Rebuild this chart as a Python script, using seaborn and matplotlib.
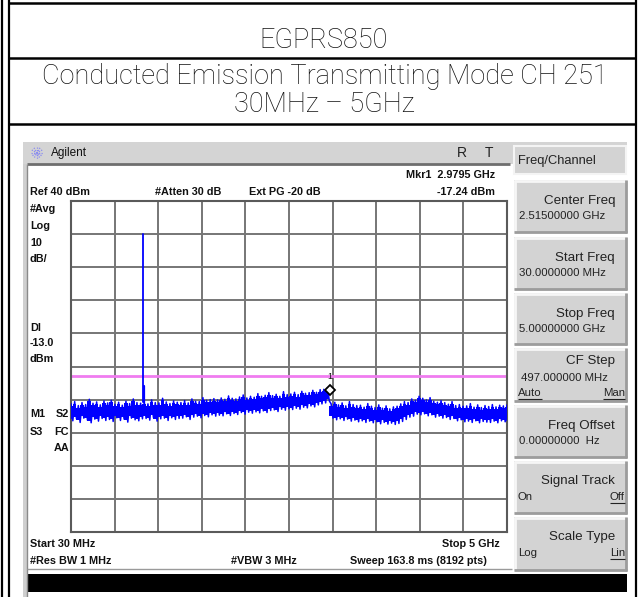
import numpy as np
import pandas as pd
import matplotlib
matplotlib.use("Agg")
import matplotlib.pyplot as plt
import seaborn as sns
from matplotlib.patches import Rectangle

# ---------------- sweep settings ----------------
start_mhz = 30.0
stop_mhz = 5000.0
ref_level_dbm = 40.0
db_per_div = 10.0
display_line_dbm = -13.0

# carrier and marker
carrier_mhz = 848.8
carrier_dbm = 30.0
carrier_skirt_dbm = -16.0
marker_mhz = 2979.5
marker_dbm = -17.24

# peak / pit of the averaged trace per display bin
trace_max = [
    -21.2, -20.6, -21.8, -20.9, -21.5, -19.9, -21.1, -20.7, -21.6, -20.4,
    -21.0, -20.2, -21.4, -20.8, -21.7, -20.5, -21.2, -19.8, -20.9, -21.1,
    -20.6, -21.3, -20.1, -20.9, -21.0, -19.6, -20.7, -21.2, -20.4, -20.8,
    -20.9, -20.3, -21.0, -19.8, -20.5, -20.6, -19.4, -20.2, -20.0, -19.7,
    -20.1, -19.5, -19.9, -18.9, -19.6, -19.8, -19.2, -18.6, -19.5, -19.0,
    -19.3, -18.2, -19.0, -18.7, -17.9, -18.8, -18.4, -19.0, -17.6, -18.5,
    -18.3, -17.8, -18.5, -17.5, -18.1, -17.9, -17.2, -17.8, -17.0, -16.9,
    -16.4,
    -21.3, -20.8, -21.6, -21.0, -21.9, -20.6, -21.5, -21.8,
    -21.7, -22.3, -21.2, -22.0, -22.4, -21.6, -22.6, -21.9, -22.8, -22.2,
    -22.0, -21.3, -20.6, -20.9, -19.8, -20.2, -19.0,
    -19.6, -20.1, -19.4, -20.5, -20.8, -20.3,
    -20.9, -21.4, -20.6, -21.8, -21.5, -22.0,
    -21.9, -21.2, -22.3, -21.6, -22.4, -21.8,
    -22.1, -21.5, -22.2, -21.7, -21.9, -21.6,
]
trace_min = [
    -26.4, -25.8, -26.9, -25.6, -26.2, -27.0, -25.9, -26.5, -25.7, -26.3,
    -26.0, -26.6, -25.5, -26.3, -25.9, -26.8, -25.6, -26.1, -26.4, -25.8,
    -25.7, -26.2, -25.4, -26.5, -25.8, -25.6, -26.3, -25.5, -26.0, -25.7,
    -25.6, -25.2, -26.0, -25.3, -25.0, -25.5, -24.8, -25.2, -24.6, -25.0,
    -24.7, -24.9, -24.3, -24.8, -24.2, -24.5, -23.9, -24.4, -23.8, -24.1,
    -23.7, -24.0, -23.4, -23.9, -23.3, -23.1, -23.6, -22.9, -23.2, -22.8,
    -23.0, -22.6, -22.9, -22.3, -22.5, -21.9, -22.2, -21.6, -21.3, -21.0,
    -20.4,
    -25.6, -26.1, -25.8, -26.3, -25.9, -26.5, -26.2, -26.7,
    -26.4, -26.9, -26.5, -27.0, -26.7, -27.3, -26.9, -27.4, -27.1, -27.5,
    -27.2, -26.6, -26.0, -25.3, -25.0, -24.4, -24.6,
    -24.3, -24.9, -24.6, -25.3, -25.0, -25.6,
    -25.4, -26.0, -25.7, -26.4, -26.1, -26.7,
    -26.5, -26.9, -26.4, -27.0, -26.6, -26.8,
    -26.9, -26.5, -27.0, -26.4, -26.7, -26.3,
]

# ---------------- figure ----------------
sns.set_theme(style="white")
plt.rcParams["font.family"] = ["Liberation Sans", "DejaVu Sans"]

W, H = 638, 597
fig = plt.figure(figsize=(W / 100, H / 100), dpi=100)
fig.patch.set_facecolor("white")

# overlay in pixel coordinates for the frame and instrument chrome
ov = fig.add_axes([0, 0, 1, 1], zorder=0)
ov.set_xlim(0, W)
ov.set_ylim(H, 0)
ov.axis("off")

def hline(y, x0, x1, color="black", lw=1.0):
    ov.plot([x0, x1], [y, y], color=color, lw=lw, solid_capstyle="butt")

def vline(x, y0, y1, color="black", lw=1.0):
    ov.plot([x, x], [y0, y1], color=color, lw=lw, solid_capstyle="butt")

# table frame
vline(1.5, 0, H, lw=1.6)
vline(8.5, 0, H, lw=1.6)
vline(635.5, 0, H, lw=1.6)
for yy in (3, 58, 124):
    hline(yy, 8.5, 635.5, lw=1.8)

title_font = ["Roboto", "Liberation Sans", "DejaVu Sans"]
ttl = dict(ha="center", va="center", fontsize=19.5, family=title_font,
           fontweight="light", color="#111111")
ov.text(324, 41, "EGPRS850", **ttl)
ov.text(325, 77, "Conducted Emission Transmitting Mode CH 251", **ttl)
ov.text(324, 105, "30MHz \u2013 5GHz", **ttl)

# instrument title bar
ov.add_patch(Rectangle((23, 142), 604, 22, facecolor="#d4d4d4", edgecolor="none"))
hline(164, 27, 510, color="#6e6e6e", lw=2)
ov.add_patch(Rectangle((23, 164), 4, 433, facecolor="#cfcfcf", edgecolor="none"))
vline(26.5, 164, 597, color="#8a8a8a", lw=1)

# small starburst logo
for ang in np.linspace(0, np.pi, 6, endpoint=False):
    dx, dy = 6 * np.cos(ang), 6 * np.sin(ang)
    ov.plot([37 - dx, 37 + dx], [153 - dy, 153 + dy], color="#8a8cf0", lw=0.9,
            ls=(0, (1, 1)))
ov.text(51, 153, "Agilent", ha="left", va="center", fontsize=8.5, color="#111111")
ov.text(462, 153, "R", ha="center", va="center", fontsize=10, color="#222222")
ov.text(489, 153, "T", ha="center", va="center", fontsize=10, color="#222222")

# annotation text around the graticule
lab = dict(fontsize=7.8, fontweight="bold", color="#111111", va="center")
ov.text(30, 192, "Ref 40 dBm", ha="left", **lab)
ov.text(155, 192, "#Atten 30 dB", ha="left", **lab)
ov.text(249, 192, "Ext PG -20 dB", ha="left", **lab)
ov.text(495, 175, "Mkr1  2.9795 GHz", ha="right", **lab)
ov.text(495, 192, "-17.24 dBm", ha="right", **lab)
for txt, yy in (("#Avg", 209), ("Log", 226), ("10", 243), ("dB/", 259),
                ("Dl", 328), ("-13.0", 343), ("dBm", 359)):
    ov.text(30, yy, txt, ha="left", **lab)
ov.text(30, 414, "M1", ha="left", **lab)
ov.text(69, 414, "S2", ha="right", **lab)
ov.text(30, 432, "S3", ha="left", **lab)
ov.text(69, 432, "FC", ha="right", **lab)
ov.text(69, 448, "AA", ha="right", **lab)
ov.text(30, 544, "Start 30 MHz", ha="left", **lab)
ov.text(30, 561, "#Res BW 1 MHz", ha="left", **lab)
ov.text(231, 561, "#VBW 3 MHz", ha="left", **lab)
ov.text(500, 544, "Stop 5 GHz", ha="right", **lab)
ov.text(487, 561, "Sweep 163.8 ms (8192 pts)", ha="right", **lab)

hline(568.5, 27, 512, color="#9a9a9a", lw=1)
ov.add_patch(Rectangle((27, 574), 600, 18, facecolor="black", edgecolor="none"))

# softkey panel
def key(x0, y0, x1, y1, header=False):
    ov.add_patch(Rectangle((x0, y0), x1 - x0, y1 - y0, facecolor="#d3d3d3",
                           edgecolor="none"))
    if header:
        ov.add_patch(Rectangle((x0 + 1, y0 + 1), x1 - x0 - 2, y1 - y0 - 2,
                               facecolor="none", edgecolor="#f4f4f4", lw=1.5))
    else:
        hline(y0 + 1, x0, x1, color="#f6f6f6", lw=2)
        vline(x0 + 1, y0, y1, color="#f6f6f6", lw=2)
        hline(y1 - 1, x0, x1, color="#9c9c9c", lw=2)
        vline(x1 - 1, y0, y1, color="#9c9c9c", lw=2)

key(513, 145, 627, 175, header=True)
ov.text(518, 161, "Freq/Channel", ha="left", va="center", fontsize=9.3,
        color="#222222")

soft = dict(fontsize=9.6, color="#222222", va="center")
val = dict(fontsize=8.2, color="#222222", va="center")
keys = [
    (180, 233, "Center Freq", "2.51500000 GHz", None, None),
    (237, 290, "Start Freq", "30.0000000 MHz", None, None),
    (293, 345, "Stop Freq", "5.00000000 GHz", None, None),
    (348, 402, "CF Step", "497.000000 MHz", "Auto", "Man"),
    (405, 458, "Freq Offset", "0.00000000  Hz", None, None),
    (461, 514, "Signal Track", None, "On", "Off"),
    (517, 571, "Scale Type", None, "Log", "Lin"),
]
for y0, y1, name, value, left_opt, right_opt in keys:
    key(514, y0, 627, y1)
    if value is not None and left_opt is not None:
        ov.text(615, y0 + 13, name, ha="right", **soft)
        ov.text(521, y0 + 30, value, ha="left", **val)
        oy = y0 + 45
    elif value is not None:
        ov.text(615, y0 + 21, name, ha="right", **soft)
        ov.text(519, y0 + 36, value, ha="left", **val)
        oy = None
    else:
        ov.text(615, y0 + 20, name, ha="right", **soft)
        oy = y0 + 36
    if oy is not None:
        t1 = ov.text(518, oy, left_opt, ha="left", **val)
        t2 = ov.text(625, oy, right_opt, ha="right", **val)
        # underline the selected option(s)
        fig.canvas.draw()
        inv = ov.transData.inverted()
        for t, underline in ((t1, left_opt == "Auto"), (t2, True)):
            if underline:
                bb = t.get_window_extent()
                (xa, _), (xb, _) = inv.transform([[bb.x0, 0], [bb.x1, 0]])
                hline(oy + 6, xa, xb, color="#222222", lw=0.8)

# ---------------- graticule and trace ----------------
gl, gt, gw, gh = 71, 201, 436, 331
ax = fig.add_axes([gl / W, 1 - (gt + gh) / H, gw / W, gh / H], zorder=2)
ax.set_facecolor("white")

freqs = np.linspace(start_mhz, stop_mhz, len(trace_max))
step = freqs[1] - freqs[0]
tmax = np.array(trace_max)
tmin = np.array(trace_min)

zig_x = np.column_stack([freqs, np.minimum(freqs + step / 2, stop_mhz)]).ravel()
zig_y = np.column_stack([tmax, tmin]).ravel()
trace = pd.DataFrame({"freq": zig_x, "level": zig_y})

ax.fill_between(freqs, tmin + 0.6, tmax - 0.6, step="mid", color="#0000ff",
                lw=0, zorder=3)
sns.lineplot(data=trace, x="freq", y="level", sort=False, estimator=None,
             color="#0000ff", lw=1.1, ax=ax, zorder=4)

# carrier spike
ic = int(np.argmin(np.abs(freqs - carrier_mhz)))
ax.plot([carrier_mhz, carrier_mhz], [tmax[ic], carrier_dbm], color="#0000ff",
        lw=1.3, zorder=4)
ax.plot([carrier_mhz + 15, carrier_mhz + 15], [tmax[ic], carrier_skirt_dbm],
        color="#0000ff", lw=1.6, zorder=4)

# display line
ax.axhline(display_line_dbm, color="#f07cf0", lw=2, zorder=2.5)

# marker 1
ax.plot([marker_mhz], [marker_dbm], marker="D", ms=5.5, mfc="white",
        mec="black", mew=1.3, zorder=6)
ax.text(marker_mhz, marker_dbm + 4.3, "1", ha="center", va="center",
        fontsize=6.5, color="#111111", zorder=6)

ax.set_xlim(start_mhz, stop_mhz)
ax.set_ylim(ref_level_dbm - 10 * db_per_div, ref_level_dbm)
ax.set_xticks(np.linspace(start_mhz, stop_mhz, 11))
ax.set_yticks(np.arange(ref_level_dbm - 10 * db_per_div, ref_level_dbm + 1, db_per_div))
ax.grid(True, color="#767676", lw=1.4)
ax.set_axisbelow(True)
ax.tick_params(left=False, bottom=False, labelleft=False, labelbottom=False)
ax.set_xlabel("")
ax.set_ylabel("")
for s in ax.spines.values():
    s.set_color("#5a5a5a")
    s.set_linewidth(1.5)

fig.savefig("out.png", dpi=100)
